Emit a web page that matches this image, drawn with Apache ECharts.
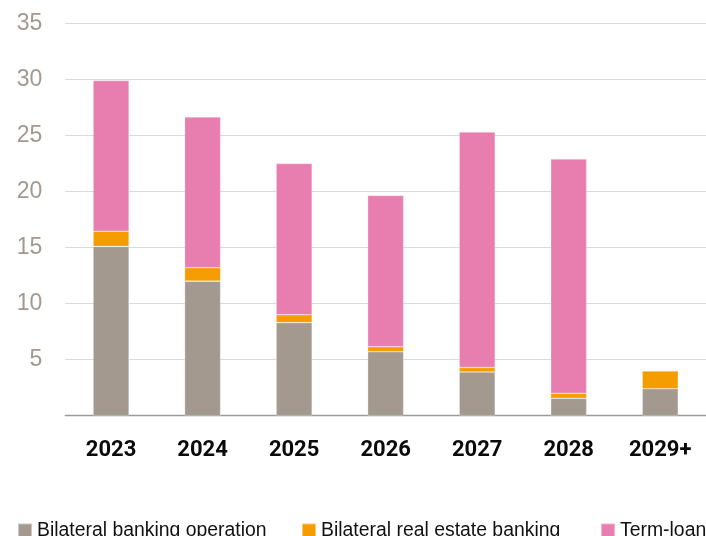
<!DOCTYPE html>
<html>
<head>
<meta charset="utf-8">
<script src="https://cdn.jsdelivr.net/npm/echarts@6/dist/echarts.min.js"></script>
<style>
html,body{margin:0;padding:0;background:#fff;}
#chart{width:706px;height:536px;}
</style>
</head>
<body>
<div id="chart"></div>
<script>
const categories = ['2023', '2024', '2025', '2026', '2027', '2028', '2029+'];
const seriesNames = ['Bilateral banking operation', 'Bilateral real estate banking', 'Term-loan'];
const bilateralBanking = [15.1, 12.0, 8.3, 5.7, 3.9, 1.55, 2.4];
const bilateralRealEstate = [1.35, 1.2, 0.7, 0.45, 0.4, 0.45, 1.6];
const termLoan = [13.45, 13.45, 13.5, 13.5, 21.0, 20.9, null];
const yTicks = { min: 0, max: 35, interval: 5 };

const colors = ['#A4998F', '#F59C00', '#E87EAF'];
const chart = echarts.init(document.getElementById('chart'), null, { renderer: 'canvas' });

const legendText = { fontFamily: 'Liberation Sans, Arial, sans-serif', fontSize: 19.4, color: '#111' };
const legendLefts = [17, 301, 600];

function mkSeries(name, data, i) {
  return {
    name: name, type: 'bar', stack: 'total', data: data, barWidth: 36,
    itemStyle: { color: colors[i], borderColor: 'rgba(255,255,255,0.45)', borderWidth: 0.6 },
    emphasis: { disabled: true }
  };
}

chart.setOption({
  animation: false,
  backgroundColor: '#fff',
  grid: { left: 65.3, right: -1, top: 23.3, bottom: 120.3, containLabel: false },
  legend: seriesNames.map((n, i) => ({
    data: [n], left: legendLefts[i], top: 521, itemWidth: 14, itemHeight: 14,
    itemGap: 0, padding: 0, icon: 'rect', textStyle: Object.assign({ padding: [0, 0, 0, 0] }, legendText)
  })),
  xAxis: {
    type: 'category', data: categories,
    axisLine: { lineStyle: { color: '#9A9A9A', width: 1.3 } },
    axisTick: { show: false },
    axisLabel: {
      interval: 0, margin: 24, fontSize: 22, fontWeight: 'bold', color: '#0A0A0A',
      fontFamily: 'Roboto, Liberation Sans, Arial, sans-serif'
    }
  },
  yAxis: {
    type: 'value', min: yTicks.min, max: yTicks.max, interval: yTicks.interval,
    axisLine: { show: false }, axisTick: { show: false },
    splitLine: { lineStyle: { color: '#DADADA', width: 1.2 } },
    axisLabel: {
      margin: 23, fontSize: 23, color: '#A4998F',
      fontFamily: 'Liberation Sans, Arial, sans-serif',
      formatter: v => (v === 0 ? '' : String(v))
    }
  },
  series: [
    mkSeries(seriesNames[0], bilateralBanking, 0),
    mkSeries(seriesNames[1], bilateralRealEstate, 1),
    mkSeries(seriesNames[2], termLoan, 2)
  ]
});
</script>
</body>
</html>
